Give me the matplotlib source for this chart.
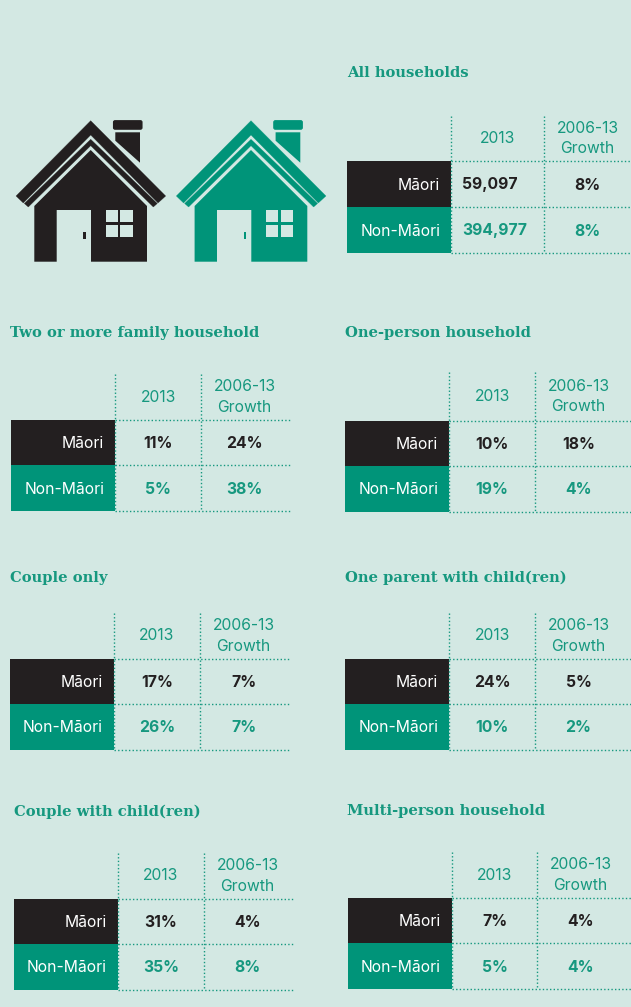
import matplotlib
matplotlib.use('Agg')
import matplotlib.pyplot as plt
from matplotlib.patches import Polygon, Rectangle, FancyBboxPatch

# data
titles = ['All households', 'Two or more family household', 'One-person household',
          'Couple only', 'One parent with child(ren)',
          'Couple with child(ren)', 'Multi-person household']
groups = ['Māori', 'Non-Māori']
columns = ['2013', '2006-13\nGrowth']
maori_2013 = ['59,097', '11%', '10%', '17%', '24%', '31%', '7%']
maori_growth = ['8%', '24%', '18%', '7%', '5%', '4%', '4%']
non_maori_2013 = ['394,977', '5%', '19%', '26%', '10%', '35%', '5%']
non_maori_growth = ['8%', '38%', '4%', '7%', '2%', '8%', '4%']

# layout, in pixels of the picture
title_x = [347, 10, 345, 10, 345, 14, 347]
title_y = [73, 333, 333, 578, 578, 812, 811]
block_x = [347, 11, 345, 10, 345, 14, 348]
col1_x = [451, 115, 449, 114, 449, 118, 452]
col2_x = [544, 201, 535, 200, 535, 204, 537]
right_x = [631, 290, 631, 289, 631, 293, 631]
top_y = [116, 374, 372, 613, 613, 853, 852]
row1_y = [161, 420, 421, 659, 659, 899, 898]
row2_y = [207, 465, 466, 704, 704, 944, 943]
row3_y = [253, 511, 512, 750, 750, 990, 989]

BG = '#d3e8e3'
DARK = '#231f20'
GREEN = '#009479'
TEXT_GREEN = '#16987f'
SANS = 'Inter'
SLAB = 'DejaVu Serif'

fig = plt.figure(figsize=(6.31, 10.07), dpi=100, facecolor=BG)
ax = fig.add_axes([0, 0, 1, 1])
ax.set_xlim(0, 631)
ax.set_ylim(1007, 0)
ax.axis('off')


def draw_house(dx, color):
    def shift(pts):
        return [(x + dx, y) for x, y in pts]
    style = dict(fc=color, ec=color, lw=0.2, joinstyle='round')
    # roof bands
    ax.add_patch(Polygon(shift([(90.7, 120.7), (165.7, 196), (158, 203), (90.7, 135), (23.3, 203), (16, 196)]), **style))
    ax.add_patch(Polygon(shift([(90.7, 139.3), (157.3, 203.5), (153.3, 207), (90.7, 145.7), (28.3, 207), (24.3, 203.5)]), **style))
    # walls with the door cut out
    ax.add_patch(Polygon(shift([(90.7, 150), (147, 206), (147, 261.7), (91, 261.7), (91, 210), (56.7, 210), (56.7, 261.7), (34.3, 261.7), (34.3, 206)]), fc=color, ec='none'))
    # chimney
    ax.add_patch(Polygon(shift([(115.3, 132.3), (140, 132.3), (140, 162.7), (115.3, 140.7)]), fc=color, ec='none'))
    ax.add_patch(FancyBboxPatch((113.5 + dx, 120.7), 28.5, 8.5, boxstyle='round,pad=0,rounding_size=1.5', fc=color, ec=color, lw=0.8))
    # window and door handle
    for x0 in (105.7, 120.3):
        for y0 in (210.3, 225):
            ax.add_patch(Rectangle((x0 + dx, y0), 12.2, 12.2, fc=BG, ec='none'))
    ax.add_patch(Rectangle((83.3 + dx, 232.3), 2.8, 7.2, fc=color, ec='none'))


draw_house(0, DARK)
draw_house(160.3, GREEN)

dots = dict(color=TEXT_GREEN, lw=1.0, linestyle=(0, (1, 1.6)))
FS = 11.3

for i, title in enumerate(titles):
    x0, x1, x2, xr = block_x[i], col1_x[i], col2_x[i], right_x[i]
    yt, y1, y2, y3 = top_y[i], row1_y[i], row2_y[i], row3_y[i]

    ax.text(title_x[i], title_y[i], title, family=SLAB, weight='bold', fontsize=10.6,
            color=TEXT_GREEN, ha='left', va='center')

    ax.add_patch(Rectangle((x0, y1), x1 - x0, y2 - y1, fc=DARK, ec='none'))
    ax.add_patch(Rectangle((x0, y2), x1 - x0, y3 - y2, fc=GREEN, ec='none'))

    for x in (x1, x2):
        ax.plot([x, x], [yt, y3], **dots)
    for y in (y1, y2, y3):
        ax.plot([x1, xr], [y, y], **dots)

    ym1 = (y1 + y2) / 2 + 1
    ym2 = (y2 + y3) / 2 + 1
    ax.text(x1 - 11, ym1, groups[0], family=SANS, fontsize=FS, color='white', ha='right', va='center')
    ax.text(x1 - 11, ym2, groups[1], family=SANS, fontsize=FS, color='white', ha='right', va='center')

    cx1 = (x1 + x2) / 2
    cx2 = (x2 + min(xr, x2 + 87)) / 2
    ax.text(cx1, (yt + y1) / 2, columns[0], family=SANS, fontsize=FS, color=TEXT_GREEN, ha='center', va='center')
    ax.text(cx2, (yt + y1) / 2, columns[1], family=SANS, fontsize=FS, color=TEXT_GREEN, ha='center', va='center', linespacing=1.45)

    # the first table has its long numbers set flush left
    if i == 0:
        num_x, num_ha = x1 + 11, 'left'
    else:
        num_x, num_ha = cx1, 'center'
    ax.text(num_x, ym1, maori_2013[i], family=SANS, weight='bold', fontsize=FS, color=DARK, ha=num_ha, va='center')
    ax.text(cx2, ym1, maori_growth[i], family=SANS, weight='bold', fontsize=FS, color=DARK, ha='center', va='center')
    ax.text(num_x, ym2, non_maori_2013[i], family=SANS, weight='bold', fontsize=FS, color=TEXT_GREEN, ha=num_ha, va='center')
    ax.text(cx2, ym2, non_maori_growth[i], family=SANS, weight='bold', fontsize=FS, color=TEXT_GREEN, ha='center', va='center')

fig.savefig('out.png', dpi=100, facecolor=BG)
